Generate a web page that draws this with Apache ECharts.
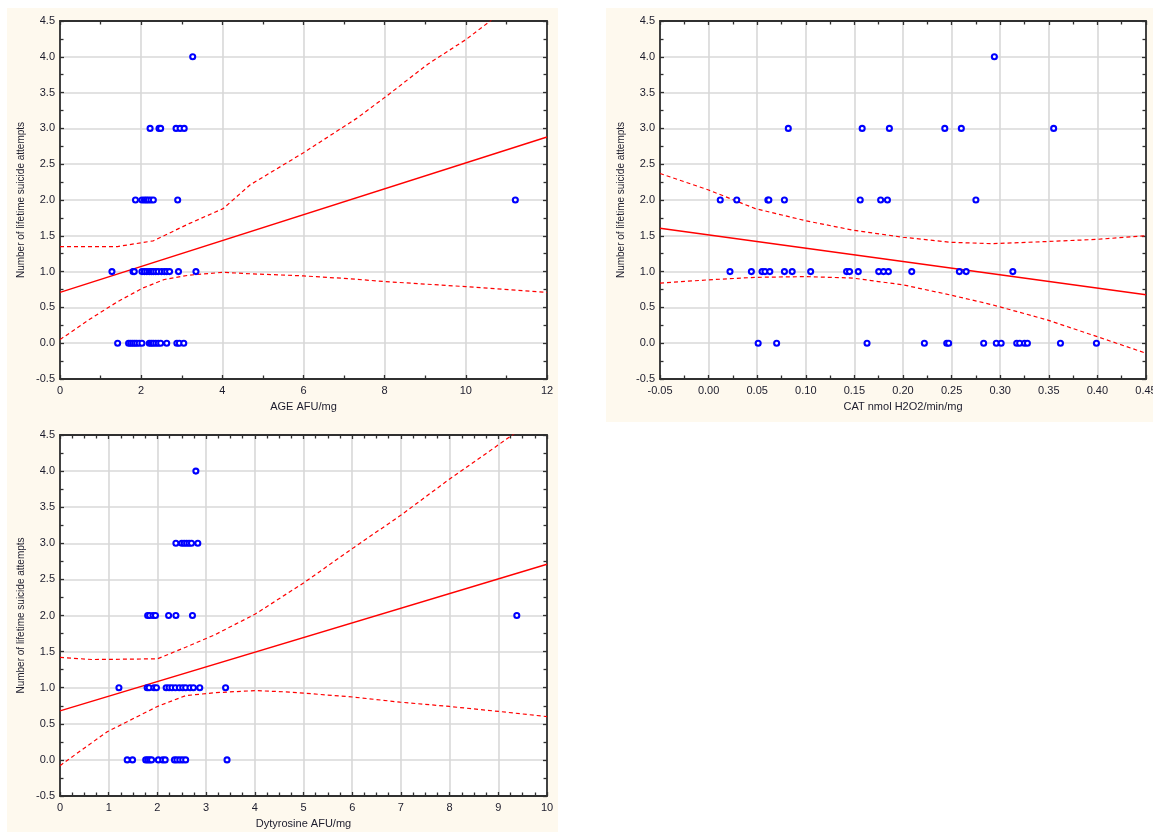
<!DOCTYPE html>
<html>
<head>
<meta charset="utf-8">
<script src="https://cdn.jsdelivr.net/npm/echarts@6/dist/echarts.min.js"></script>
<style>
html,body{margin:0;padding:0;background:#ffffff;}
#chart{width:1153px;height:832px;}
</style>
</head>
<body>
<div id="chart"></div>
<script>
// ---------- Panel 1: AGE AFU/mg ----------
const age_y0 = [1.42, 1.69, 1.74, 1.79, 1.84, 1.89, 1.95, 2.02, 2.20, 2.25, 2.30, 2.36, 2.42, 2.48, 2.63, 2.88, 2.94, 3.05];
const age_y1 = [1.28, 1.80, 1.83, 2.02, 2.08, 2.14, 2.20, 2.25, 2.30, 2.36, 2.42, 2.50, 2.57, 2.63, 2.70, 2.92, 3.35];
const age_y2 = [1.86, 2.02, 2.08, 2.13, 2.18, 2.24, 2.30, 2.90, 11.22];
const age_y3 = [2.22, 2.44, 2.48, 2.86, 2.96, 3.06];
const age_y4 = [3.27];
const ageFitX = [0, 12];
const ageFitY = [0.71, 2.88];
const ageUpX = [0, 1.42, 2.3, 3.18, 4.02, 4.68, 6.0, 7.31, 8.02, 9.07, 10.0, 10.6, 12];
const ageUpY = [1.35, 1.35, 1.43, 1.67, 1.88, 2.21, 2.66, 3.14, 3.44, 3.90, 4.24, 4.50, 5.15];
const ageLoX = [0, 0.72, 1.42, 2.04, 2.57, 3.18, 4.02, 4.68, 6.0, 7.14, 8.02, 10.0, 12];
const ageLoY = [0.05, 0.33, 0.58, 0.77, 0.89, 0.95, 0.99, 0.97, 0.94, 0.90, 0.86, 0.79, 0.71];

// ---------- Panel 2: CAT nmol H2O2/min/mg ----------
const cat_y0 = [0.051, 0.070, 0.163, 0.222, 0.245, 0.247, 0.283, 0.296, 0.301, 0.317, 0.320, 0.325, 0.328, 0.362, 0.399];
const cat_y1 = [0.022, 0.044, 0.055, 0.058, 0.063, 0.078, 0.086, 0.105, 0.142, 0.145, 0.154, 0.175, 0.180, 0.185, 0.209, 0.258, 0.265, 0.313];
const cat_y2 = [0.012, 0.029, 0.061, 0.062, 0.078, 0.156, 0.177, 0.184, 0.275];
const cat_y3 = [0.082, 0.158, 0.186, 0.243, 0.260, 0.355];
const cat_y4 = [0.294];
const catFitX = [-0.05, 0.45];
const catFitY = [1.605, 0.676];
const catUpX = [-0.05, 0.0, 0.048, 0.10, 0.148, 0.20, 0.248, 0.292, 0.348, 0.399, 0.45];
const catUpY = [2.37, 2.14, 1.88, 1.71, 1.58, 1.48, 1.41, 1.39, 1.42, 1.45, 1.50];
const catLoX = [-0.05, 0.0, 0.048, 0.10, 0.148, 0.20, 0.248, 0.292, 0.348, 0.399, 0.45];
const catLoY = [0.84, 0.885, 0.92, 0.93, 0.91, 0.815, 0.676, 0.536, 0.327, 0.095, -0.14];

// ---------- Panel 3: Dytyrosine AFU/mg ----------
const dit_y0 = [1.38, 1.49, 1.76, 1.80, 1.84, 1.88, 2.02, 2.11, 2.16, 2.35, 2.40, 2.46, 2.52, 2.58, 3.43];
const dit_y1 = [1.21, 1.79, 1.83, 1.93, 1.98, 2.18, 2.24, 2.30, 2.37, 2.45, 2.52, 2.58, 2.67, 2.74, 2.87, 3.40];
const dit_y2 = [1.80, 1.84, 1.91, 1.96, 2.23, 2.38, 2.72, 9.38];
const dit_y3 = [2.38, 2.50, 2.55, 2.60, 2.65, 2.70, 2.83];
const dit_y4 = [2.79];
const ditFitX = [0, 10];
const ditFitY = [0.68, 2.71];
const ditUpX = [0, 0.67, 2.0, 2.58, 3.17, 4.01, 5.0, 6.03, 6.98, 8.0, 9.29, 10];
const ditUpY = [1.42, 1.39, 1.40, 1.56, 1.73, 2.02, 2.45, 2.94, 3.38, 3.89, 4.50, 4.82];
const ditLoX = [0, 0.45, 0.97, 2.0, 2.58, 3.17, 4.01, 4.71, 6.03, 6.98, 8.0, 9.03, 10];
const ditLoY = [-0.08, 0.14, 0.39, 0.74, 0.89, 0.93, 0.96, 0.94, 0.87, 0.80, 0.74, 0.67, 0.60];

// axis texts
const yName = 'Number of lifetime suicide attempts';
const xNames = ['AGE AFU/mg', 'CAT nmol H2O2/min/mg', 'Dytyrosine AFU/mg'];

// ---------- build ----------
function pts(rows) {
  const out = [];
  rows.forEach((arr, yv) => arr.forEach(x => out.push([x, yv])));
  return out;
}
function zip(xs, ys) { return xs.map((x, i) => [x, ys[i]]); }

const FONT = 'Liberation Sans, Arial, sans-serif';
const TXT = '#1c1c2c';
const AXC = '#303030';

function xAxisPair(gi, min, max, interval, minorSplit, dec, name) {
  const common = {
    type: 'value', gridIndex: gi, min: min, max: max, interval: interval,
    axisLine: { show: true, onZero: false, lineStyle: { color: AXC, width: 1.8 } },
    axisTick: { show: true, inside: true, length: 4, lineStyle: { color: AXC, width: 1.3 } },
    minorTick: { show: true, splitNumber: minorSplit, length: 3.5, lineStyle: { color: AXC, width: 1.3 } },
    minorSplitLine: { show: false }
  };
  return [
    Object.assign({}, common, {
      position: 'bottom',
      name: name, nameLocation: 'middle', nameGap: 22,
      nameTextStyle: { color: TXT, fontSize: 11, fontFamily: FONT },
      axisLabel: { show: true, margin: 6, color: TXT, fontSize: 11, fontFamily: FONT,
        formatter: v => (Math.abs(v) < 1e-9 ? 0 : v).toFixed(dec) },
      splitLine: { show: true, lineStyle: { color: '#d8d8d8', width: 1.6 } }
    }),
    Object.assign({}, common, {
      position: 'top',
      axisLabel: { show: false },
      splitLine: { show: false }
    })
  ];
}
function yAxisPair(gi, gap) {
  const common = {
    type: 'value', gridIndex: gi, min: -0.5, max: 4.5, interval: 0.5,
    axisLine: { show: true, onZero: false, lineStyle: { color: AXC, width: 1.8 } },
    axisTick: { show: true, inside: true, length: 4, lineStyle: { color: AXC, width: 1.3 } },
    minorTick: { show: true, splitNumber: 2, length: 3.5, lineStyle: { color: AXC, width: 1.3 } },
    minorSplitLine: { show: false }
  };
  return [
    Object.assign({}, common, {
      position: 'left',
      name: yName, nameLocation: 'middle', nameGap: gap, nameRotate: 90,
      nameTextStyle: { color: TXT, fontSize: 10, fontFamily: FONT },
      axisLabel: { show: true, margin: 5, color: TXT, fontSize: 11, fontFamily: FONT,
        formatter: v => (Math.abs(v) < 1e-9 ? 0 : v).toFixed(1) },
      splitLine: { show: true, lineStyle: { color: '#d8d8d8', width: 1.6 } }
    }),
    Object.assign({}, common, {
      position: 'right',
      axisLabel: { show: false },
      splitLine: { show: false }
    })
  ];
}

const xAxes = [].concat(
  xAxisPair(0, 0, 12, 2, 2, 0, xNames[0]),
  xAxisPair(1, -0.05, 0.45, 0.05, 2, 2, xNames[1]),
  xAxisPair(2, 0, 10, 1, 4, 0, xNames[2])
);
const yAxes = [].concat(yAxisPair(0, 34), yAxisPair(1, 34), yAxisPair(2, 34));

function panelSeries(ai, rows, fitX, fitY, upX, upY, loX, loY) {
  const xi = ai * 2, yi = ai * 2;
  const dashed = { color: '#ff0000', width: 1.2, type: [4, 3] };
  return [
    { type: 'line', xAxisIndex: xi, yAxisIndex: yi, data: zip(upX, upY), showSymbol: false, symbol: 'none',
      smooth: false, clip: true, lineStyle: dashed, z: 3, silent: true },
    { type: 'line', xAxisIndex: xi, yAxisIndex: yi, data: zip(loX, loY), showSymbol: false, symbol: 'none',
      smooth: false, clip: true, lineStyle: dashed, z: 3, silent: true },
    { type: 'line', xAxisIndex: xi, yAxisIndex: yi, data: zip(fitX, fitY), showSymbol: false, symbol: 'none',
      clip: true, lineStyle: { color: '#ff0000', width: 1.4 }, z: 3, silent: true },
    { type: 'scatter', xAxisIndex: xi, yAxisIndex: yi, data: pts(rows), symbol: 'circle', symbolSize: 5,
      itemStyle: { color: '#ffffff', borderColor: '#0000ff', borderWidth: 2.1, opacity: 1 }, z: 4, silent: true }
  ];
}

const gridBase = { show: true, backgroundColor: '#ffffff', borderWidth: 0, containLabel: false, outerBoundsMode: 'none' };

const option = {
  backgroundColor: '#ffffff',
  animation: false,
  graphic: [
    { type: 'rect', z: -100, shape: { x: 7, y: 8, width: 551, height: 405 }, style: { fill: '#fef9ee' } },
    { type: 'rect', z: -100, shape: { x: 606, y: 8, width: 547, height: 414 }, style: { fill: '#fef9ee' } },
    { type: 'rect', z: -100, shape: { x: 7, y: 413, width: 551, height: 419 }, style: { fill: '#fef9ee' } }
  ],
  grid: [
    Object.assign({ left: 60, top: 21, width: 487, height: 358 }, gridBase),
    Object.assign({ left: 660, top: 21, width: 486, height: 358 }, gridBase),
    Object.assign({ left: 60, top: 435, width: 487, height: 361 }, gridBase)
  ],
  xAxis: xAxes,
  yAxis: yAxes,
  series: [].concat(
    panelSeries(0, [age_y0, age_y1, age_y2, age_y3, age_y4], ageFitX, ageFitY, ageUpX, ageUpY, ageLoX, ageLoY),
    panelSeries(1, [cat_y0, cat_y1, cat_y2, cat_y3, cat_y4], catFitX, catFitY, catUpX, catUpY, catLoX, catLoY),
    panelSeries(2, [dit_y0, dit_y1, dit_y2, dit_y3, dit_y4], ditFitX, ditFitY, ditUpX, ditUpY, ditLoX, ditLoY)
  )
};

const chart = echarts.init(document.getElementById('chart'), null, { renderer: 'canvas' });
chart.setOption(option);
</script>
</body>
</html>
